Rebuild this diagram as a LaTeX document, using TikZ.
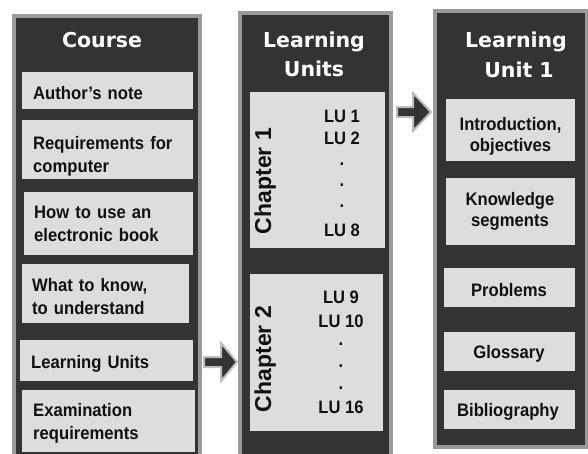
\documentclass[tikz,border=0pt]{standalone}
\usepackage{fontspec}
\setmainfont{Liberation Sans}
\newfontfamily\itemfont[FakeStretch=0.92]{Liberation Sans}
\newfontfamily\titlefont{DejaVu Sans}
\definecolor{paneldark}{HTML}{333333}
\definecolor{panelgray}{HTML}{9A9A9A}
\definecolor{boxgray}{HTML}{DDDDDD}
\definecolor{textdark}{HTML}{111111}
\definecolor{arrowedge}{HTML}{BDBDBD}
\begin{document}
\begin{tikzpicture}[x=1pt,y=-1pt,
  panel/.style={fill=paneldark, draw=panelgray, line width=4pt},
  itembox/.style={fill=boxgray, draw=none, inner sep=0pt},
  lefttext/.style={text=textdark, anchor=base west, inner sep=0pt, align=left, text width=160pt,
    font=\itemfont\bfseries\fontsize{18.1}{23}\selectfont},
  centertext/.style={text=textdark, anchor=base, inner sep=0pt, align=center, text width=128pt,
    font=\itemfont\bfseries\fontsize{18.1}{21}\selectfont},
  titletext/.style={text=white, anchor=base, inner sep=0pt,
    font=\titlefont\bfseries\fontsize{20.5}{29}\selectfont},
  lutext/.style={text=textdark, anchor=base, inner sep=0pt,
    font=\itemfont\bfseries\fontsize{18}{21}\selectfont},
  chaptext/.style={text=textdark, anchor=base, inner sep=0pt, rotate=90,
    font=\bfseries\fontsize{23}{26}\selectfont},
  blockarrow/.style={fill=paneldark, draw=arrowedge, line width=2pt, line join=miter}
]
\useasboundingbox (0,0) rectangle (588,453);
\clip (0,0) rectangle (588,453);
\fill[white] (0,0) rectangle (588,453);

% panels
\draw[panel] (14,16) rectangle (200,480);
\draw[panel] (240,13) rectangle (391,480);
\draw[panel] (435,11) rectangle (586.5,447);

% Course column
\node[titletext] (tcourse) at (102,47) {Course};
\node[itembox, minimum width=171pt, minimum height=37pt] (author) at (107.5,90.5) {};
\node[itembox, minimum width=171pt, minimum height=59pt] (req) at (107.5,149.5) {};
\node[itembox, minimum width=169pt, minimum height=63pt] (howto) at (108.5,223.5) {};
\node[itembox, minimum width=167pt, minimum height=59pt] (what) at (105.5,293.5) {};
\node[itembox, minimum width=173pt, minimum height=41pt] (lubox) at (106.5,360.5) {};
\node[itembox, minimum width=173pt, minimum height=62pt] (exam) at (108.5,421) {};
\node[lefttext] (authort) at (33,99) {Author’s note};
\node[lefttext] (reqt) at (33,149) {Requirements for\\computer};
\node[lefttext] (howtot) at (34,218) {How to use an\\electronic book};
\node[lefttext] (whatt) at (32,291.5) {What to know,\\to understand};
\node[lefttext] (lut) at (31,368.3) {Learning Units};
\node[lefttext] (examt) at (33,416.5) {Examination\\requirements};

% Learning Units column
\node[titletext] (tlu1) at (314,47) {Learning};
\node[titletext] (tlu2) at (314,76) {Units};
\node[itembox, minimum width=135pt, minimum height=156pt] (ch1) at (317.5,170) {};
\node[itembox, minimum width=133pt, minimum height=157pt] (ch2) at (316.5,352.5) {};
\node[chaptext] (ch1t) at (271,181) {Chapter 1};
\node[chaptext] (ch2t) at (271,359) {Chapter 2};
\node[lutext] (lu1) at (342,122) {LU 1};
\node[lutext] (lu2) at (342,144) {LU 2};
\node[lutext] (d11) at (342,165) {.};
\node[lutext] (d12) at (342,186) {.};
\node[lutext] (d13) at (342,207) {.};
\node[lutext] (lu8) at (342,236) {LU 8};
\node[lutext] (lu9) at (341,303) {LU 9};
\node[lutext] (lu10) at (341,327) {LU 10};
\node[lutext] (d21) at (341,345) {.};
\node[lutext] (d22) at (341,367) {.};
\node[lutext] (d23) at (341,389) {.};
\node[lutext] (lu16) at (341,413) {LU 16};

% Learning Unit 1 column
\node[titletext] (tunit1) at (516,47) {Learning};
\node[titletext] (tunit2) at (519,77) {Unit 1};
\node[itembox, minimum width=129pt, minimum height=62pt] (intro) at (510.5,130) {};
\node[itembox, minimum width=129pt, minimum height=67pt] (know) at (510.5,211.5) {};
\node[itembox, minimum width=131pt, minimum height=39pt] (prob) at (509.5,287.5) {};
\node[itembox, minimum width=131pt, minimum height=39pt] (glos) at (509.5,351.5) {};
\node[itembox, minimum width=131pt, minimum height=39pt] (bib) at (509.5,409.5) {};
\node[centertext] (introt) at (510.5,130) {Introduction,\\objectives};
\node[centertext] (knowt) at (510,205.5) {Knowledge\\segments};
\node[centertext] (probt) at (509,296.7) {Problems};
\node[centertext] (glost) at (509,358.3) {Glossary};
\node[centertext] (bibt) at (508,416) {Bibliography};

% block arrows
\draw[blockarrow] (204,357) -- (221,357) -- (221,343) -- (237,362) -- (221,381) -- (221,367) -- (204,367) -- cycle;
\draw[blockarrow] (397,107) -- (413,107) -- (413,93) -- (431,112) -- (413,131) -- (413,117) -- (397,117) -- cycle;
\end{tikzpicture}
\end{document}
